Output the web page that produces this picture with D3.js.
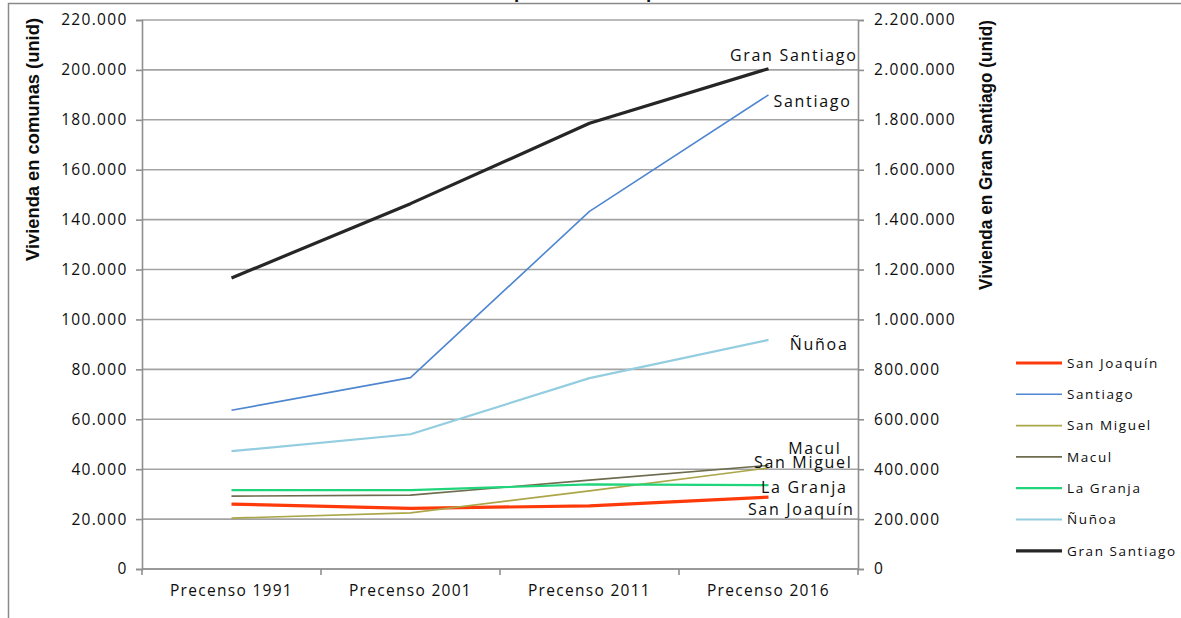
<!DOCTYPE html>
<html>
<head>
<meta charset="utf-8">
<script src="https://cdn.jsdelivr.net/npm/d3@7/dist/d3.min.js"></script>
<style>
  html, body { margin: 0; padding: 0; background: #fff; }
  svg { display: block; }
</style>
</head>
<body>
<svg id="chart" width="1181" height="618"></svg>
<script>
// ---------------- data ----------------
const categories = ["Precenso 1991", "Precenso 2001", "Precenso 2011", "Precenso 2016"];
const leftTicks = [0, 20000, 40000, 60000, 80000, 100000, 120000, 140000, 160000, 180000, 200000, 220000];
const rightTicks = [0, 200000, 400000, 600000, 800000, 1000000, 1200000, 1400000, 1600000, 1800000, 2000000, 2200000];

const seriesNames = ["San Joaquín", "Santiago", "San Miguel", "Macul", "La Granja", "Ñuñoa", "Gran Santiago"];
const sanJoaquin   = [26000, 24300, 25300, 28800];
const santiago     = [63600, 76700, 143300, 190000];
const sanMiguel    = [20400, 22500, 31300, 40500];
const macul        = [29200, 29600, 35600, 41500];
const laGranja     = [31600, 31600, 33900, 33600];
const nunoa        = [47200, 54000, 76500, 91800];
const granSantiago = [1166000, 1464000, 1786000, 2005000];

const titleText = "Vivienda por comuna en precenso";
const leftTitle = "Vivienda en comunas (unid)";
const rightTitle = "Vivienda en Gran Santiago  (unid)";

// ---------------- styles ----------------
const seriesValues = [sanJoaquin, santiago, sanMiguel, macul, laGranja, nunoa, granSantiago];
const seriesAxis   = ["left", "left", "left", "left", "left", "left", "right"];
const seriesColor  = ["#ff3a0a", "#4f86d0", "#aba648", "#6e6c4e", "#1fd47a", "#93cde0", "#262626"];
const seriesWidth  = [3.2, 1.6, 1.6, 1.6, 2.2, 2.2, 3.2];
// label offsets relative to last point (text anchored at its end)
const labelDx = [86, 83, 84, 73, 79, 80, 89];
const labelDy = [18, 12, 0, -11, 8, 10, -8];

// ---------------- layout ----------------
const svg = d3.select("#chart");
const W = 1181, H = 618;
const plot = { left: 142, right: 858, top: 20, bottom: 569 };
const gridColor = "#a3a3a3";
const axisColor = "#8f8f8f";
const textColor = "#0d0d0d";

svg.append("rect").attr("x", 0).attr("y", 0).attr("width", W).attr("height", H).attr("fill", "#fff");

// title (mostly cut off at top, as in the reference)
const title = svg.append("text")
  .attr("y", -2)
  .attr("font-family", "Open Sans, sans-serif")
  .attr("font-weight", "bold")
  .attr("font-size", 17)
  .attr("fill", textColor)
  .text(titleText);
const pIdx = titleText.indexOf("p");
const pPos = title.node().getStartPositionOfChar(pIdx).x;
title.attr("x", 514 - pPos);

// chart border
svg.append("rect")
  .attr("x", 8.5).attr("y", 3.5).attr("width", 1300).attr("height", 800)
  .attr("fill", "none").attr("stroke", "#8a8a8a").attr("stroke-width", 1.5);

const x = d3.scaleBand().domain(categories).range([plot.left, plot.right]).padding(0);
const yL = d3.scaleLinear().domain([0, 220000]).range([plot.bottom, plot.top]);
const yR = d3.scaleLinear().domain([0, 2200000]).range([plot.bottom, plot.top]);
const fmt = v => d3.format(",")(v).replace(/,/g, ".");

// gridlines
svg.append("g").selectAll("line").data(leftTicks).join("line")
  .attr("x1", plot.left).attr("x2", plot.right)
  .attr("y1", d => yL(d)).attr("y2", d => yL(d))
  .attr("stroke", gridColor).attr("stroke-width", 1.6);

// left axis
const gL = svg.append("g").attr("transform", `translate(${plot.left},0)`)
  .call(d3.axisLeft(yL).tickValues(leftTicks).tickFormat(fmt).tickSize(6).tickPadding(10));
// right axis
const gR = svg.append("g").attr("transform", `translate(${plot.right},0)`)
  .call(d3.axisRight(yR).tickValues(rightTicks).tickFormat(fmt).tickSize(6).tickPadding(10));
// bottom axis
const gB = svg.append("g").attr("transform", `translate(0,${plot.bottom})`)
  .call(d3.axisBottom(x).tickSize(0).tickPadding(16));
// category boundary ticks
const bounds = categories.map(c => x(c)).concat([x(categories[categories.length - 1]) + x.bandwidth()]);
svg.append("g").selectAll("line").data(bounds).join("line")
  .attr("x1", d => d).attr("x2", d => d)
  .attr("y1", plot.bottom).attr("y2", plot.bottom + 6)
  .attr("stroke", axisColor).attr("stroke-width", 1.6);

[gL, gR, gB].forEach(g => {
  g.select(".domain").attr("stroke", axisColor).attr("stroke-width", 1.6);
  g.selectAll(".tick line").attr("stroke", axisColor).attr("stroke-width", 1.6);
  g.selectAll(".tick text")
    .attr("font-family", "Open Sans, sans-serif")
    .attr("font-size", 15.5)
    .attr("letter-spacing", "1.3px")
    .attr("fill", textColor);
});
gL.selectAll(".tick text").attr("dx", "0.1em");
gB.select(".domain").attr("d", `M${plot.left},0H${plot.right}`);

// axis titles
svg.append("text")
  .attr("transform", `translate(39,${(18 + 261) / 2}) rotate(-90)`)
  .attr("text-anchor", "middle")
  .attr("font-family", "Liberation Sans Narrow, Liberation Sans, sans-serif")
  .attr("font-stretch", "condensed")
  .attr("font-weight", "bold")
  .attr("font-size", 19)
  .attr("fill", textColor)
  .attr("textLength", 243).attr("lengthAdjust", "spacingAndGlyphs")
  .text(leftTitle);
svg.append("text")
  .attr("transform", `translate(992,${(20 + 290) / 2}) rotate(-90)`)
  .attr("text-anchor", "middle")
  .attr("font-family", "Liberation Sans Narrow, Liberation Sans, sans-serif")
  .attr("font-stretch", "condensed")
  .attr("font-weight", "bold")
  .attr("font-size", 19)
  .attr("fill", textColor)
  .attr("textLength", 270).attr("lengthAdjust", "spacingAndGlyphs")
  .text(rightTitle);

// lines
const cx = c => x(c) + x.bandwidth() / 2;
const linesG = svg.append("g");
seriesNames.forEach((name, i) => {
  const ys = seriesAxis[i] === "right" ? yR : yL;
  const pts = categories.map((c, j) => [cx(c), ys(seriesValues[i][j])]);
  linesG.append("path")
    .attr("d", d3.line()(pts))
    .attr("fill", "none")
    .attr("stroke", seriesColor[i])
    .attr("stroke-width", seriesWidth[i])
    .attr("stroke-linejoin", "round");
});

// data labels
seriesNames.forEach((name, i) => {
  const ys = seriesAxis[i] === "right" ? yR : yL;
  const last = categories.length - 1;
  svg.append("text")
    .attr("x", cx(categories[last]) + labelDx[i])
    .attr("y", ys(seriesValues[i][last]) + labelDy[i])
    .attr("text-anchor", "end")
    .attr("font-family", "Open Sans, sans-serif")
    .attr("font-size", 16)
    .attr("letter-spacing", "1.7px")
    .attr("fill", textColor)
    .text(name);
});

// legend
const legend = svg.append("g");
const legY0 = 363, legStep = 31.3;
seriesNames.forEach((name, i) => {
  const y = legY0 + i * legStep;
  legend.append("line")
    .attr("x1", 1016).attr("x2", 1062).attr("y1", y).attr("y2", y)
    .attr("stroke", seriesColor[i]).attr("stroke-width", seriesWidth[i]);
  legend.append("text")
    .attr("x", 1067).attr("y", y).attr("dy", "0.35em")
    .attr("font-family", "Open Sans, sans-serif")
    .attr("font-size", 13.5)
    .attr("letter-spacing", "1.6px")
    .attr("fill", textColor)
    .text(name);
});
</script>
</body>
</html>
